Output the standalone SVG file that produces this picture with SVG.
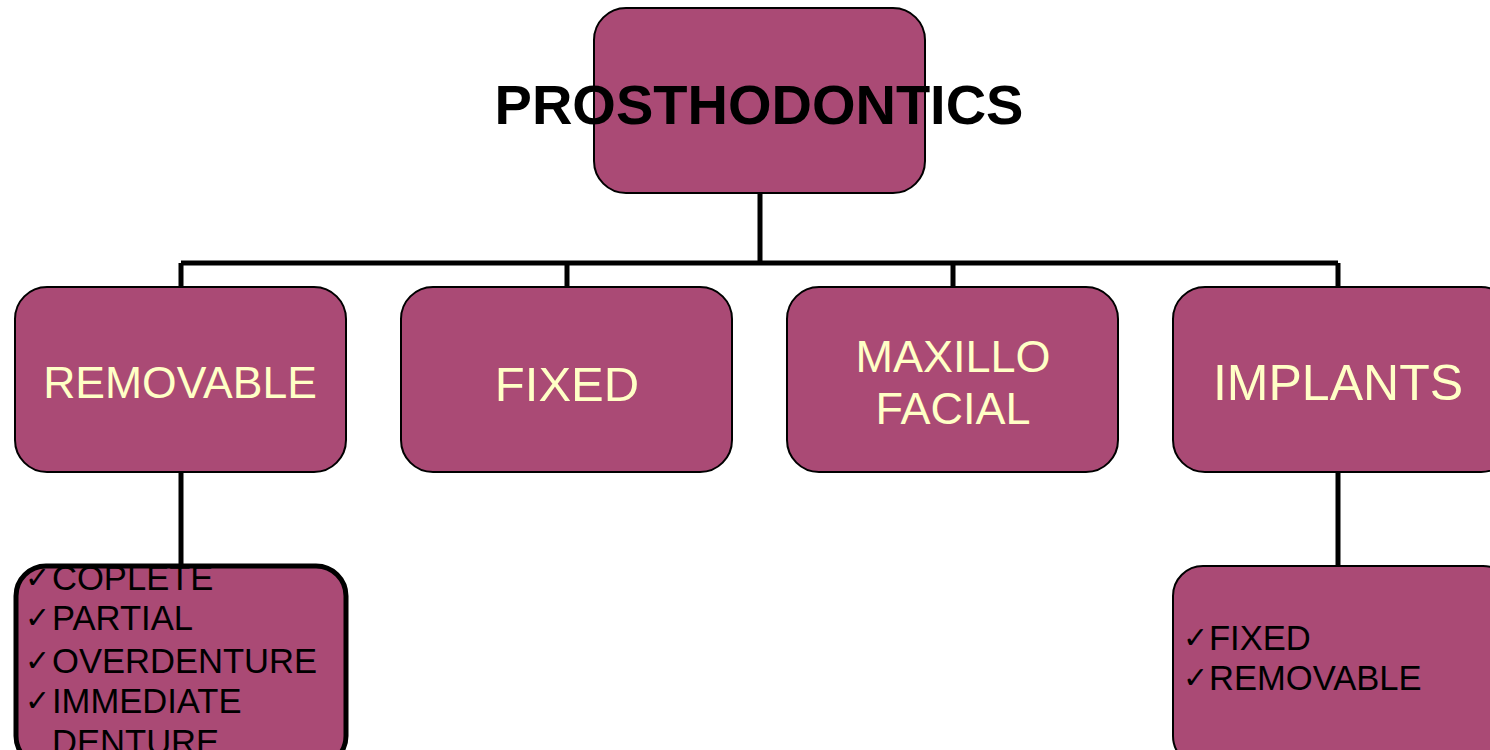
<svg xmlns="http://www.w3.org/2000/svg" width="1490" height="750" viewBox="0 0 1490 750">
<style>
.box{fill:#AA4A75;stroke:#000;stroke-width:2}
.lbl{font-family:"Liberation Sans",Arial,sans-serif;fill:#FFFFC6;text-anchor:middle}
.lst{font-family:"Liberation Sans",Arial,sans-serif;fill:#000;font-size:34.6px}
.chk{font-family:"DejaVu Sans",sans-serif;font-size:30px;font-weight:bold;fill:#000}
.con{fill:none;stroke:#000;stroke-width:5}
</style>
<rect width="1490" height="750" fill="#fff"/>
<g id="connectors">
<path class="con" d="M760 193V263M181 263H1338M181 263V287M567 263V287M953 263V287M1338 263V287"/>
<path class="con" d="M181 472V566"/>
<path class="con" d="M1338 472V566"/>
</g>
<g id="prosthodontics">
<rect class="box" x="594" y="8" width="331" height="185" rx="32"/>
<text x="759" y="124" font-family="Liberation Sans,Arial,sans-serif" font-weight="bold" font-size="56" text-anchor="middle" fill="#000">PROSTHODONTICS</text>
</g>
<g id="removable">
<rect class="box" x="15" y="287" width="331" height="185" rx="32"/>
<text class="lbl" x="180" y="398" font-size="44.5">REMOVABLE</text>
</g>
<g id="fixed">
<rect class="box" x="401" y="287" width="331" height="185" rx="32"/>
<text class="lbl" x="567" y="401" font-size="49">FIXED</text>
</g>
<g id="maxillofacial">
<rect class="box" x="787" y="287" width="331" height="185" rx="32"/>
<text class="lbl" x="953" y="372" font-size="45">MAXILLO</text>
<text class="lbl" x="953" y="424" font-size="45">FACIAL</text>
</g>
<g id="implants">
<rect class="box" x="1173" y="287" width="340" height="185" rx="32"/>
<text class="lbl" x="1338" y="400" font-size="50">IMPLANTS</text>
</g>
<g id="removable-list">
<rect x="16" y="566" width="330" height="200" rx="30" fill="#AA4A75"/>
<text class="chk" x="25" y="588">✓</text><text class="lst" x="52" y="590">COPLETE</text>
<text class="chk" x="25" y="628">✓</text><text class="lst" x="52" y="630">PARTIAL</text>
<text class="chk" x="25" y="671">✓</text><text class="lst" x="52" y="673">OVERDENTURE</text>
<text class="chk" x="25" y="711">✓</text><text class="lst" x="52" y="713">IMMEDIATE</text>
<text class="lst" x="52" y="754">DENTURE</text>
<rect x="16" y="566" width="330" height="200" rx="30" fill="none" stroke="#000" stroke-width="5"/>
</g>
<g id="implants-list">
<rect class="box" x="1173" y="566" width="340" height="200" rx="30"/>
<text class="chk" x="1183" y="648">✓</text><text class="lst" x="1209" y="650">FIXED</text>
<text class="chk" x="1183" y="688">✓</text><text class="lst" x="1209" y="690">REMOVABLE</text>
</g>
</svg>
